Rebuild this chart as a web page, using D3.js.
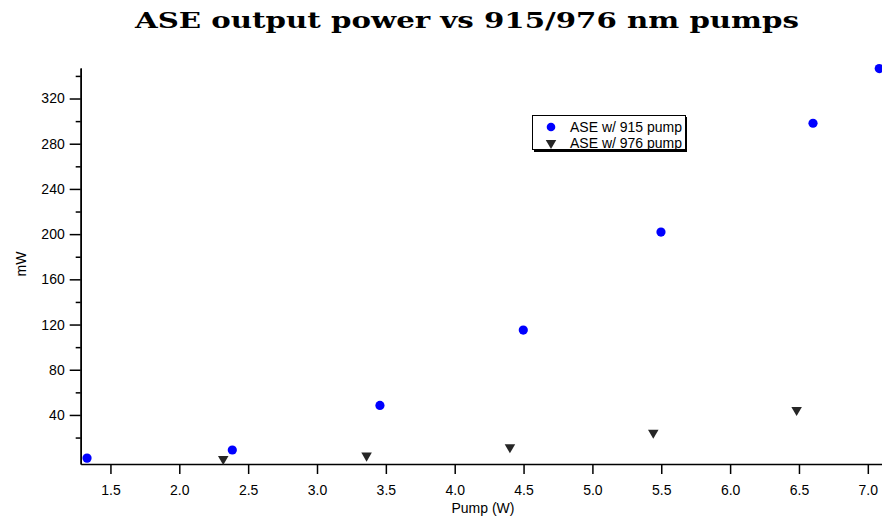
<!DOCTYPE html>
<html>
<head>
<meta charset="utf-8">
<script src="https://cdn.jsdelivr.net/npm/d3@7"></script>
<style>
  body { margin: 0; background: #fff; }
  text { font-family: "Liberation Sans", Arial, sans-serif; }
</style>
</head>
<body>
<div id="chart"></div>
<script>
// data
let pump915 = [1.33, 2.385, 3.457, 4.498, 5.498, 6.602, 7.083];
let ase915 = [1.8, 9.0, 48.4, 115.1, 201.8, 298.1, 346.5];
let pump976 = [2.319, 3.36, 4.401, 5.442, 6.483];
let ase976 = [1.0, 4.0, 11.4, 24.3, 44.4];
let xTicks = [1.5, 2.0, 2.5, 3.0, 3.5, 4.0, 4.5, 5.0, 5.5, 6.0, 6.5, 7.0];
let yMajor = [40, 80, 120, 160, 200, 240, 280, 320];
let yMinor = [20, 60, 100, 140, 180, 220, 260, 300, 340];
let seriesNames = ["ASE w/ 915 pump", "ASE w/ 976 pump"];

var width = 882,
  height = 520;

let svg = d3
  .select("#chart")
  .append("svg")
  .attr("width", width)
  .attr("height", height);

let x = d3.scaleLinear().domain([1.284, 7.103]).range([80.7, 882]);
let y = d3.scaleLinear().domain([-3.4, 347]).range([464, 68]);

//title
svg
  .append("text")
  .attr("x", 467)
  .attr("y", 28)
  .attr("text-anchor", "middle")
  .attr("textLength", 664)
  .attr("lengthAdjust", "spacingAndGlyphs")
  .style("font-family", '"DejaVu Serif", serif')
  .style("font-weight", "bold")
  .style("font-size", "22px")
  .text("ASE output power vs 915/976 nm pumps");

//x axis
svg
  .append("g")
  .attr("transform", "translate(0," + 464 + ")")
  .call(
    d3.axisBottom(x)
      .tickValues(xTicks)
      .tickFormat(d3.format(".1f"))
      .tickSize(10)
      .tickSizeOuter(0)
      .tickPadding(11)
  );

//y axis, minor ticks first
svg
  .append("g")
  .attr("transform", "translate(80.7,0)")
  .call(d3.axisLeft(y).tickValues(yMinor).tickSize(5).tickSizeOuter(0).tickFormat(""));

svg
  .append("g")
  .attr("transform", "translate(80.7,0)")
  .call(d3.axisLeft(y).tickValues(yMajor).tickSize(11).tickSizeOuter(0).tickPadding(5));

svg.selectAll(".domain, .tick line").attr("stroke", "black").attr("stroke-width", 1.5);
svg.selectAll(".tick text").style("font-size", "14px").attr("fill", "black");

//axis labels
svg
  .append("text")
  .attr("x", 483)
  .attr("y", 513)
  .attr("text-anchor", "middle")
  .style("font-size", "14px")
  .text("Pump (W)");

svg
  .append("text")
  .attr("transform", "translate(26,264) rotate(-90)")
  .attr("text-anchor", "middle")
  .style("font-size", "14px")
  .text("mW");

//points
svg
  .append("g")
  .selectAll("circle")
  .data(pump915)
  .join("circle")
  .attr("cx", (d) => x(d))
  .attr("cy", (d, i) => y(ase915[i]))
  .attr("r", 4.6)
  .attr("fill", "#0000ff");

let tri = d3.symbol().type(d3.symbolTriangle).size(48);
svg
  .append("g")
  .selectAll("path")
  .data(pump976)
  .join("path")
  .attr("d", tri)
  .attr("transform", (d, i) => "translate(" + x(d) + "," + y(ase976[i]) + ") rotate(180)")
  .attr("fill", "#262626");

//legend
let lg = svg.append("g");
lg.append("rect")
  .attr("x", 534)
  .attr("y", 117)
  .attr("width", 153)
  .attr("height", 35)
  .attr("fill", "black");
lg.append("rect")
  .attr("x", 532.5)
  .attr("y", 115.5)
  .attr("width", 153)
  .attr("height", 34)
  .attr("fill", "white")
  .attr("stroke", "black")
  .attr("stroke-width", 1);

lg.append("circle").attr("cx", 551).attr("cy", 127).attr("r", 4.3).attr("fill", "#0000ff");
lg.append("path")
  .attr("d", tri)
  .attr("transform", "translate(551,143) rotate(180)")
  .attr("fill", "#262626");

seriesNames.forEach((s, i) =>
  lg
    .append("text")
    .attr("x", 570)
    .attr("y", 131.7 + i * 16.5)
    .style("font-size", "14px")
    .text(s)
);
</script>
</body>
</html>
